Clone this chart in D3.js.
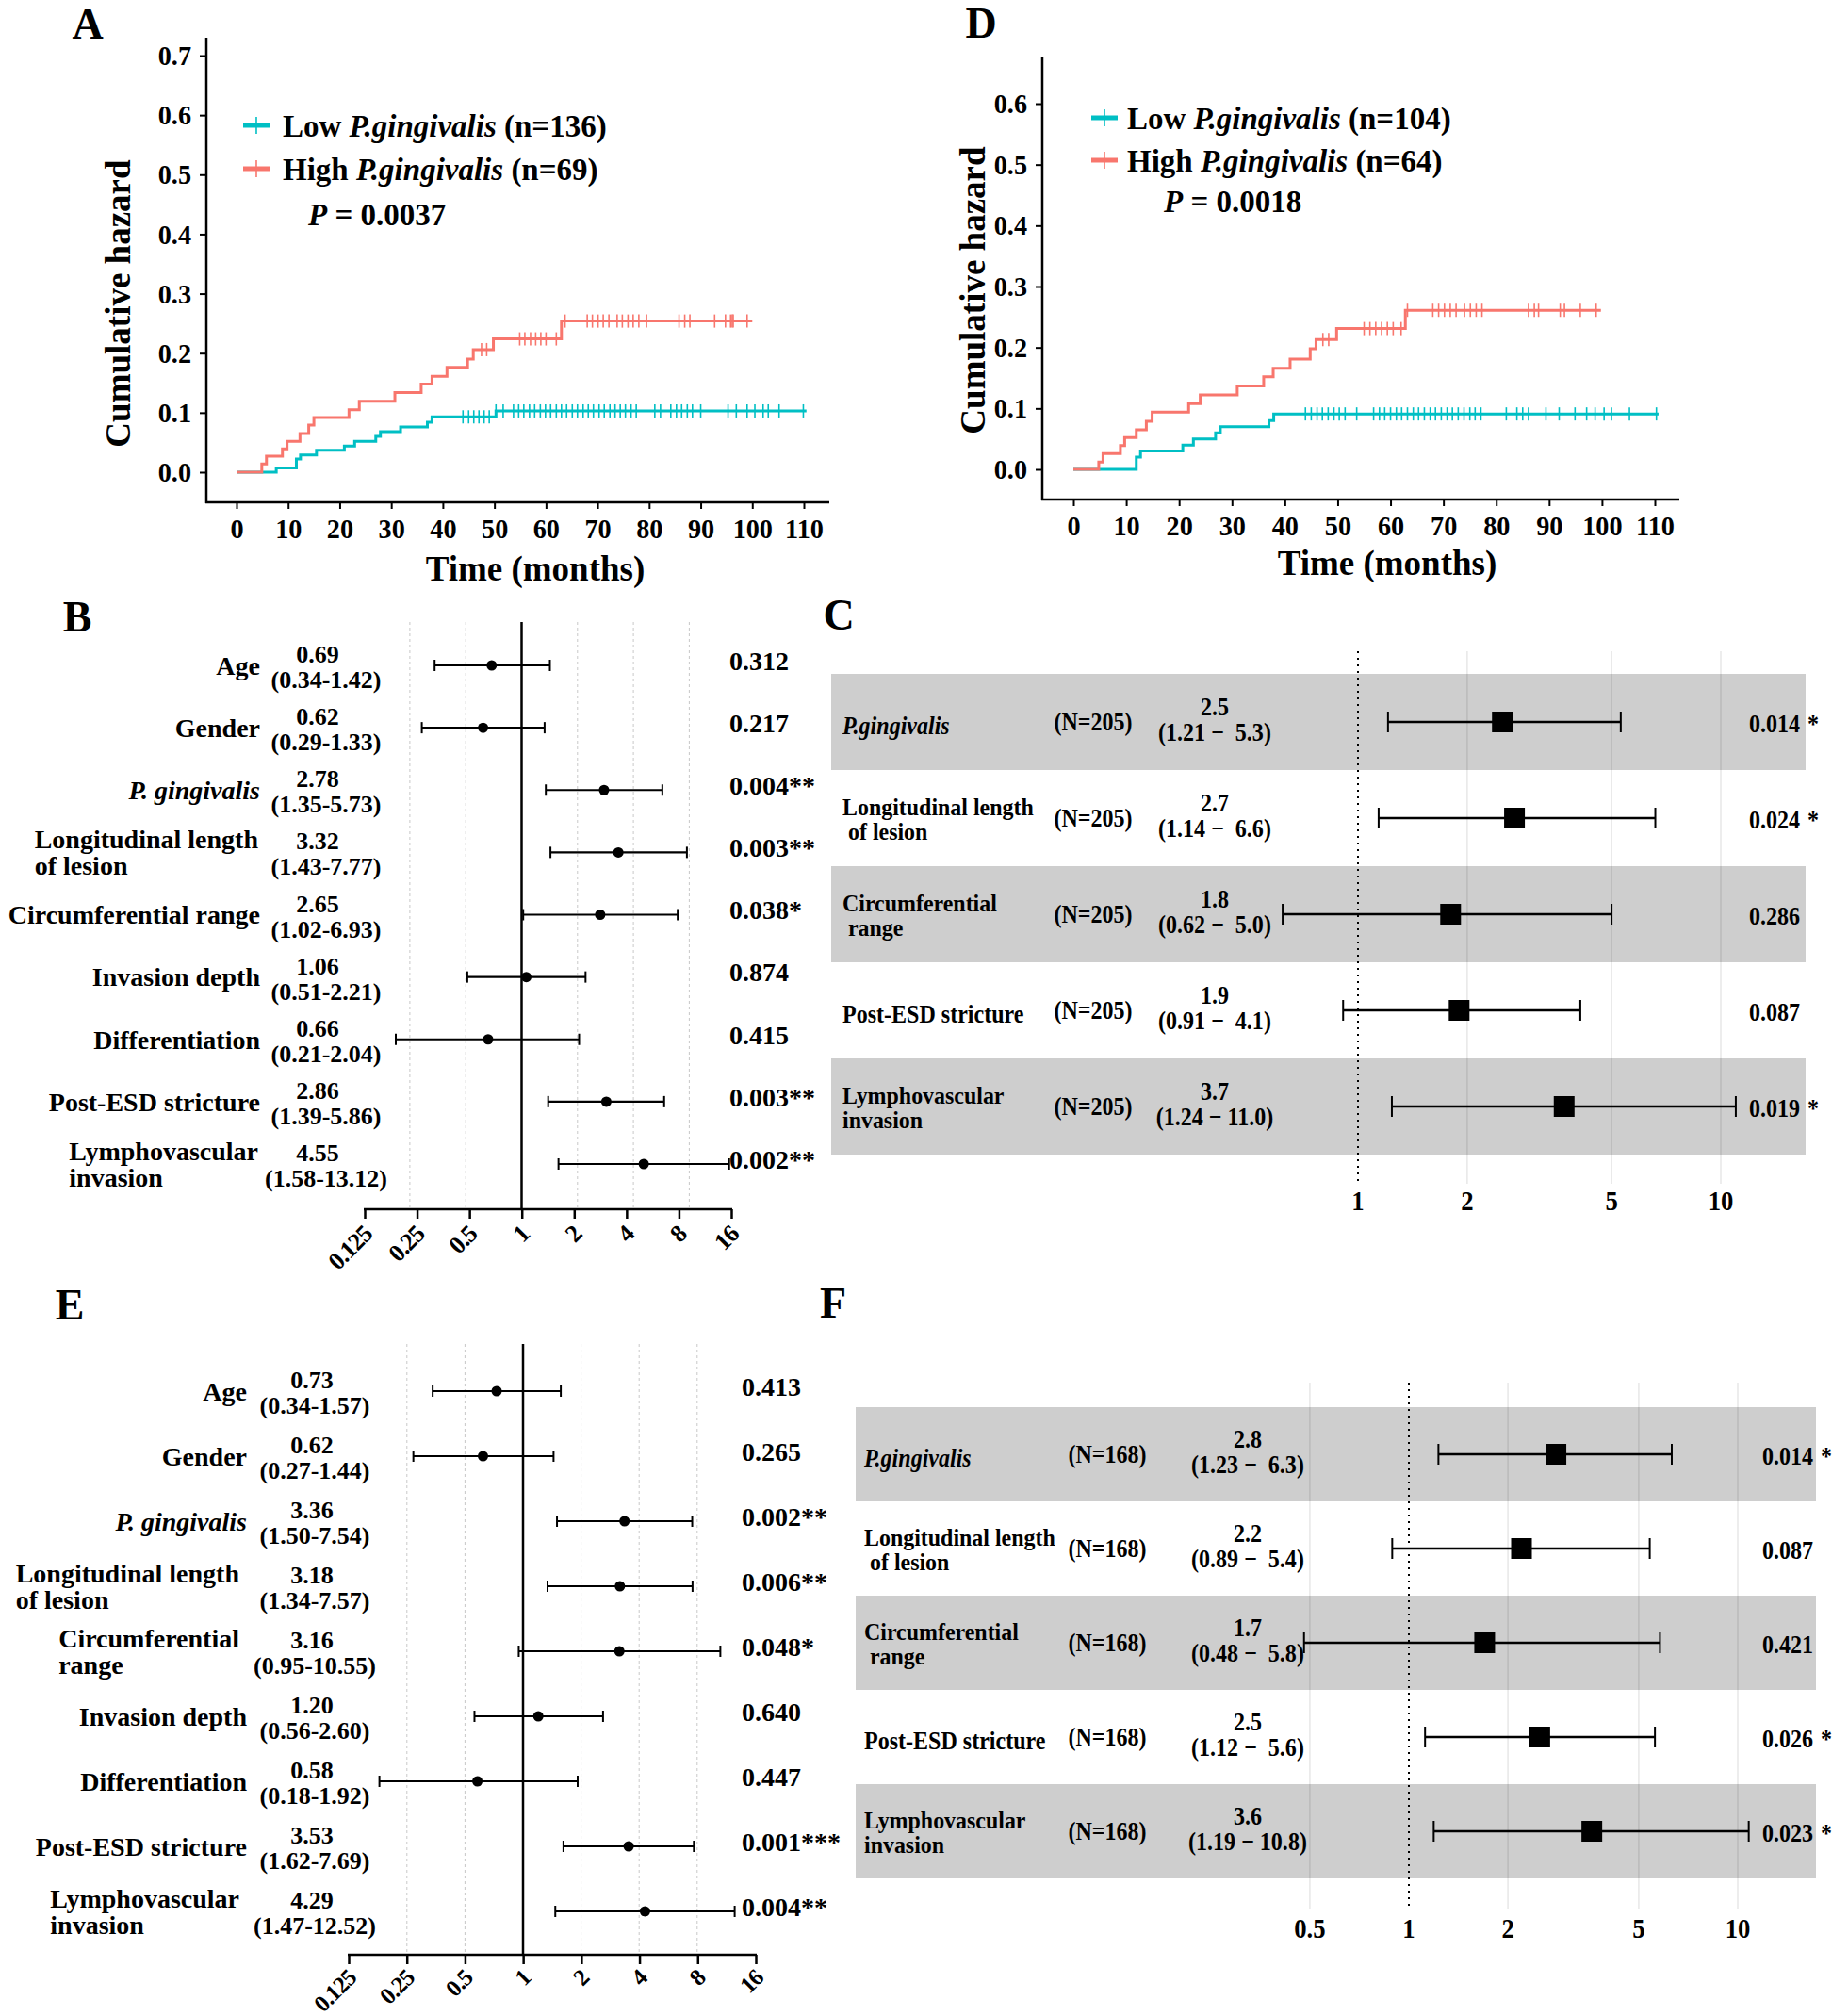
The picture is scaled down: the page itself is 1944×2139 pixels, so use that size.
<!DOCTYPE html>
<html><head><meta charset="utf-8">
<script src="https://cdn.jsdelivr.net/npm/d3@7"></script>
<style>
body{margin:0;background:#fff}
text{font-family:"Liberation Serif","Times New Roman",serif;font-weight:bold;fill:#000;white-space:pre}
</style></head><body>
<svg id="fig" width="1944" height="2139" xmlns="http://www.w3.org/2000/svg"></svg>
<script>
// ---------------- DATA ----------------
// Panel A (cumulative hazard, n=205)
const lowA_times = [0, 7.7, 11.6, 12.4, 15.5, 20.9, 22.9, 27, 27.9, 31.8, 37, 37.9, 50.3];
const lowA_haz   = [0, 0.007, 0.022, 0.029, 0.037, 0.044, 0.052, 0.060, 0.068, 0.076, 0.084, 0.093, 0.103];
const lowA_end = 110.5;
const lowA_cens = [43.9,45,46,47,48,49,50.3,51.7,53.7,54.7,55.7,56.8,57.8,58.9,59.9,60.9,62,63,64,65.1,66.1,67.2,68.2,69.2,70.3,71.3,72.4,73.4,74.4,75.4,76.5,77.5,81.1,82.2,84.2,85.3,86.3,87.4,88.4,90,95.3,96.9,99,100.5,102.1,103.1,105.2,109.9];
const highA_times = [0, 4.9, 5.8, 8.9, 9.8, 12.3, 14, 15, 21.8, 23.8, 30.7, 35.8, 37.9, 40.8, 44.8, 45.9, 49.8, 63];
const highA_haz   = [0, 0.014, 0.027, 0.039, 0.052, 0.065, 0.079, 0.092, 0.105, 0.119, 0.134, 0.148, 0.161, 0.176, 0.190, 0.206, 0.224, 0.254];
const highA_end = 100;
const highA_cens = [47.5,48.5,54.9,55.9,57,58,59,60,62,63.7,68,69,70.1,71.1,72.2,73.8,74.8,75.9,76.9,78,79.5,85.8,86.9,87.9,92.7,94.8,95.8,96.1,96.3,99];
const legendA = ["136","69"];
const pA = "0.0037";

// Panel D (cumulative hazard, n=168)
const lowD_times = [0, 11.9, 12.7, 20.7, 22.7, 26.9, 27.8, 37, 37.9];
const lowD_haz   = [0, 0.020, 0.030, 0.040, 0.050, 0.060, 0.070, 0.080, 0.091];
const lowD_end = 110.7;
const lowD_cens = [43.9,45,46.1,47.1,48.2,49.3,50.3,51.4,53.6,56.8,57.9,58.9,60,61.1,62.1,63.2,64.3,65.3,66.4,67.5,68.5,69.6,70.7,71.7,72.8,73.9,75,76,77.1,81.9,83.9,85,86.1,89.4,91.9,94.9,97.1,98.7,100.4,101.8,105.2,110.3];
const highD_times = [0, 4.8, 5.6, 8.9, 9.7, 11.9, 13.8, 14.9, 21.8, 24, 31, 36, 37.8, 41, 44.8, 45.9, 49.8, 62.8];
const highD_haz   = [0, 0.012, 0.026, 0.039, 0.052, 0.065, 0.079, 0.094, 0.108, 0.122, 0.137, 0.152, 0.166, 0.181, 0.198, 0.213, 0.231, 0.261];
const highD_end = 99.8;
const highD_cens = [47.2,48.3,55,56.1,57.2,58.3,59.4,60.5,62,63.2,68,69.1,70.2,71.3,72.4,74,75.1,76.2,77.3,86.1,87.2,88,92.1,92.9,95.9,98.9];
const legendD = ["104","64"];
const pD = "0.0018";

const timeTicks = [0,10,20,30,40,50,60,70,80,90,100,110];

// Panel B (univariate, n=205)
const varsB = ["Age","Gender","P. gingivalis","Longitudinal length\nof lesion","Circumferential range","Invasion depth","Differentiation","Post-ESD stricture","Lymphovascular\ninvasion"];
const hrB = [0.69,0.62,2.78,3.32,2.65,1.06,0.66,2.86,4.55];
const loB = [0.34,0.29,1.35,1.43,1.02,0.51,0.21,1.39,1.58];
const hiB = [1.42,1.33,5.73,7.77,6.93,2.21,2.04,5.86,13.12];
const pB  = ["0.312","0.217","0.004**","0.003**","0.038*","0.874","0.415","0.003**","0.002**"];

// Panel E (univariate, n=168)
const varsE = ["Age","Gender","P. gingivalis","Longitudinal length\nof lesion","Circumferential\nrange","Invasion depth","Differentiation","Post-ESD stricture","Lymphovascular\ninvasion"];
const hrE = [0.73,0.62,3.36,3.18,3.16,1.20,0.58,3.53,4.29];
const loE = [0.34,0.27,1.50,1.34,0.95,0.56,0.18,1.62,1.47];
const hiE = [1.57,1.44,7.54,7.57,10.55,2.60,1.92,7.69,12.52];
const pE  = ["0.413","0.265","0.002**","0.006**","0.048*","0.640","0.447","0.001***","0.004**"];
const log2Ticks = [0.125,0.25,0.5,1,2,4,8,16];
const log2Grid = [0.25,0.5,2,4,8];

// Panel C (multivariate, N=205)
const varsC = ["P.gingivalis","Longitudinal length\n of lesion","Circumferential\n range","Post-ESD stricture","Lymphovascular\ninvasion"];
const nC = "205";
const hrC = [2.5,2.7,1.8,1.9,3.7];
const loC = [1.21,1.14,0.62,0.91,1.24];
const hiC = [5.3,6.6,5.0,4.1,11.0];
const pC  = ["0.014","0.024","0.286","0.087","0.019"];
const starC = ["*","*","","","*"];
const ticksC = [1,2,5,10];

// Panel F (multivariate, N=168)
const varsF = ["P.gingivalis","Longitudinal length\n of lesion","Circumferential\n range","Post-ESD stricture","Lymphovascular\ninvasion"];
const nF = "168";
const hrF = [2.8,2.2,1.7,2.5,3.6];
const loF = [1.23,0.89,0.48,1.12,1.19];
const hiF = [6.3,5.4,5.8,5.6,10.8];
const pF  = ["0.014","0.087","0.421","0.026","0.023"];
const starF = ["*","","","*","*"];
const ticksF = [0.5,1,2,5,10];

// ---------------- DRAWING ----------------
const TEAL = "#00BFC4", RED = "#F8766D";
const svg = d3.select("#fig");
svg.append("rect").attr("width",1944).attr("height",2139).attr("fill","#fff");

function condense(sel, ratio){
  sel.each(function(){
    const w = this.getComputedTextLength();
    d3.select(this).attr("textLength", w*ratio).attr("lengthAdjust","spacingAndGlyphs");
  });
  return sel;
}

function styleAxis(g, size){
  g.attr("font-family","Liberation Serif, Times New Roman, serif").attr("font-size",size).attr("font-weight","bold");
  g.selectAll(".tick line").attr("stroke","#000").attr("stroke-width",2);
  g.select(".domain").remove();
}

function panelLabel(t,x,y){
  svg.append("text").attr("x",x).attr("y",y).attr("text-anchor","middle").attr("font-size",46).text(t);
}

function kmPanel(c){
  const g = svg.append("g");
  const x = d3.scaleLinear().domain([0,110]).range([c.x0,c.x110]);
  const y = d3.scaleLinear().domain([0,c.ymax]).range([c.y0,c.yTop]);
  const yt = d3.range(0, c.ymax+0.001, 0.1);
  const ya = g.append("g").attr("transform",`translate(${c.axisX},0)`)
    .call(d3.axisLeft(y).tickValues(yt).tickFormat(d3.format(".1f")).tickSize(7).tickPadding(9));
  styleAxis(ya,30);
  condense(ya.selectAll(".tick text"),0.94);
  const xa = g.append("g").attr("transform",`translate(0,${c.axisY})`)
    .call(d3.axisBottom(x).tickValues(timeTicks).tickSize(7).tickPadding(10));
  styleAxis(xa,30);
  condense(xa.selectAll(".tick text"),0.94);
  g.append("line").attr("x1",c.axisX).attr("x2",c.axisX).attr("y1",c.axisTop).attr("y2",c.axisY+1).attr("stroke","#000").attr("stroke-width",2.5);
  g.append("line").attr("x1",c.axisX-1).attr("x2",c.axisRight).attr("y1",c.axisY).attr("y2",c.axisY).attr("stroke","#000").attr("stroke-width",2.5);
  g.append("text").attr("x",c.titleX).attr("y",c.titleY).attr("dy","0.35em").attr("text-anchor","middle").attr("font-size",37).text("Time (months)");
  g.append("text").attr("transform",`translate(${c.ylabX},${c.ylabY}) rotate(-90)`).attr("dy","0.35em").attr("text-anchor","middle").attr("font-size",37).text("Cumulative hazard");

  const series = [
    {t:c.low.t, h:c.low.h, end:c.low.end, cens:c.low.cens, col:TEAL},
    {t:c.high.t, h:c.high.h, end:c.high.end, cens:c.high.cens, col:RED}
  ];
  const line = d3.line().x(d=>x(d[0])).y(d=>y(d[1])).curve(d3.curveStepAfter);
  series.forEach(s=>{
    const pts = s.t.map((t,i)=>[t,s.h[i]]);
    pts.push([s.end, s.h[s.h.length-1]]);
    g.append("path").attr("d",line(pts)).attr("fill","none").attr("stroke",s.col).attr("stroke-width",3);
    s.cens.forEach(ct=>{
      const idx = d3.bisectRight(s.t, ct)-1;
      const lv = s.h[Math.max(0,idx)];
      g.append("line").attr("x1",x(ct)).attr("x2",x(ct)).attr("y1",y(lv)-7).attr("y2",y(lv)+7)
        .attr("stroke",s.col).attr("stroke-width",1.6);
    });
  });
  // legend
  const labs = [["Low ",c.nLow,TEAL],["High ",c.nHigh,RED]];
  labs.forEach((l,i)=>{
    const ly = c.legY[i];
    g.append("line").attr("x1",c.legX).attr("x2",c.legX+28).attr("y1",ly).attr("y2",ly).attr("stroke",l[2]).attr("stroke-width",5);
    g.append("line").attr("x1",c.legX+14).attr("x2",c.legX+14).attr("y1",ly-9).attr("y2",ly+9).attr("stroke",l[2]).attr("stroke-width",1.6);
    const tx = g.append("text").attr("x",c.legTextX).attr("y",ly).attr("dy","0.35em").attr("font-size",33);
    tx.append("tspan").text(l[0]);
    tx.append("tspan").attr("font-style","italic").text("P.gingivalis");
    tx.append("tspan").text(` (n=${l[1]})`);
  });
  const pt = g.append("text").attr("x",c.pX).attr("y",c.pY).attr("dy","0.35em").attr("font-size",33);
  pt.append("tspan").attr("font-style","italic").text("P");
  pt.append("tspan").text(" = "+c.p);
}

kmPanel({x0:251,x110:853,y0:501,yTop:59,ymax:0.7,axisX:219,axisTop:40,axisY:533,axisRight:880,
  titleX:568,titleY:603,ylabX:125,ylabY:322,legX:258,legY:[133,179],legTextX:300,pX:327,pY:227,
  low:{t:lowA_times,h:lowA_haz,end:lowA_end,cens:lowA_cens},
  high:{t:highA_times,h:highA_haz,end:highA_end,cens:highA_cens},
  nLow:legendA[0],nHigh:legendA[1],p:pA});
kmPanel({x0:1139,x110:1756,y0:498,yTop:110,ymax:0.6,axisX:1106,axisTop:60,axisY:530,axisRight:1782,
  titleX:1472,titleY:597,ylabX:1032,ylabY:308,legX:1158,legY:[125,170],legTextX:1196,pX:1235,pY:213,
  low:{t:lowD_times,h:lowD_haz,end:lowD_end,cens:lowD_cens},
  high:{t:highD_times,h:highD_haz,end:highD_end,cens:highD_cens},
  nLow:legendD[0],nHigh:legendD[1],p:pD});

function gpForest(c){
  const g = svg.append("g");
  const n = c.vars.length;
  // plotting scale (marks + gridlines) and axis scale (drawn axis)
  const x = d3.scaleLog().base(2).domain([1,2]).range([c.x1, c.x1 + c.perDbl]);
  const xa = d3.scaleLog().base(2).domain([0.125,16]).range([c.axa,c.axb]);
  const y = d3.scalePoint().domain(d3.range(n)).range([c.yFirst,c.yLast]);
  log2Grid.forEach(v=>{
    g.append("line").attr("x1",x(v)).attr("x2",x(v)).attr("y1",c.top).attr("y2",c.axisY-2)
      .attr("stroke","#c8c8c8").attr("stroke-width",1).attr("stroke-dasharray","3,3");
  });
  g.append("line").attr("x1",x(1)).attr("x2",x(1)).attr("y1",c.top).attr("y2",c.axisY).attr("stroke","#000").attr("stroke-width",2.5);
  const ax = g.append("g").attr("transform",`translate(0,${c.axisY})`)
    .call(d3.axisBottom(xa).tickValues(log2Ticks).tickFormat(d=>String(d)).tickSize(10));
  styleAxis(ax,c.tickFont);
  ax.selectAll(".tick line").attr("stroke-width",2.5);
  ax.selectAll(".tick text").attr("y",null).attr("dy",null).attr("text-anchor","end")
    .attr("letter-spacing",-1)
    .attr("transform",`translate(9,${c.tickDy}) rotate(-45)`);
  g.append("line").attr("x1",c.axa-1).attr("x2",c.axb+1).attr("y1",c.axisY).attr("y2",c.axisY).attr("stroke","#000").attr("stroke-width",2.5);

  for(let i=0;i<n;i++){
    const yy = y(i);
    g.append("line").attr("x1",x(c.lo[i])).attr("x2",x(c.hi[i])).attr("y1",yy).attr("y2",yy).attr("stroke","#000").attr("stroke-width",2.2);
    [c.lo[i],c.hi[i]].forEach(v=>g.append("line").attr("x1",x(v)).attr("x2",x(v)).attr("y1",yy-6).attr("y2",yy+6).attr("stroke","#000").attr("stroke-width",2));
    g.append("circle").attr("cx",x(c.hr[i])).attr("cy",yy).attr("r",5.5).attr("fill","#000");
    const lines = c.vars[i].split("\n");
    const ital = c.vars[i].includes("gingivalis");
    if(lines.length===1){
      g.append("text").attr("x",c.labelRight).attr("y",yy).attr("dy","0.35em").attr("text-anchor","end")
        .attr("font-size",28).attr("font-style",ital?"italic":null).text(lines[0]);
    } else {
      const t1 = g.append("text").attr("x",c.label2Right).attr("y",yy-14).attr("dy","0.35em").attr("text-anchor","end").attr("font-size",28).text(lines[0]);
      const w = t1.node().getComputedTextLength();
      g.append("text").attr("x",c.label2Right-w).attr("y",yy+14).attr("dy","0.35em").attr("font-size",28).text(lines[1]);
    }
    g.append("text").attr("x",c.hrX).attr("y",yy-12).attr("dy","0.35em").attr("text-anchor","middle").attr("font-size",26).text(c.hr[i].toFixed(2));
    g.append("text").attr("x",c.ciX).attr("y",yy+15).attr("dy","0.35em").attr("text-anchor","middle").attr("font-size",26).text(`(${c.lo[i].toFixed(2)}-${c.hi[i].toFixed(2)})`);
    g.append("text").attr("x",c.pX).attr("y",yy-5).attr("dy","0.35em").attr("font-size",28).text(c.p[i]);
  }
}

gpForest({vars:varsB,hr:hrB,lo:loB,hi:hiB,p:pB,x1:553.5,perDbl:59.3,axa:387,axb:776,yFirst:706,yLast:1235,top:660,axisY:1283,
  tickFont:26,tickDy:28,labelRight:276,label2Right:274,hrX:337,ciX:346,pX:774});
gpForest({vars:varsE,hr:hrE,lo:loE,hi:hiE,p:pE,x1:555,perDbl:61.6,axa:370,axb:802,yFirst:1476,yLast:2028,top:1426,axisY:2074,
  tickFont:25,tickDy:26,labelRight:262,label2Right:254,hrX:331,ciX:334,pX:787});

function fmForest(c){
  const g = svg.append("g");
  const n = c.vars.length;
  const x = d3.scaleLog().domain([1,10]).range([c.x1,c.x10]);
  const rowY = i => c.row0 + i*c.rowH;
  const F = 27, R = 0.89;
  for(let i=0;i<n;i+=2){
    g.append("rect").attr("x",c.bandL).attr("y",rowY(i)-c.rowH/2).attr("width",c.bandR-c.bandL).attr("height",c.rowH).attr("fill","#cecece");
  }
  c.ticks.filter(v=>v!==1).forEach(v=>{
    g.append("line").attr("x1",x(v)).attr("x2",x(v)).attr("y1",c.top).attr("y2",c.bottom).attr("stroke","#000").attr("stroke-opacity",0.12).attr("stroke-width",1.2);
  });
  g.append("line").attr("x1",x(1)).attr("x2",x(1)).attr("y1",c.top).attr("y2",c.bottom).attr("stroke","#000").attr("stroke-width",2).attr("stroke-dasharray","2,5");
  c.ticks.forEach(v=>{
    condense(g.append("text").attr("x",x(v)).attr("y",c.tickY).attr("dy","0.35em").attr("text-anchor","middle").attr("font-size",29).text(String(v)),0.92);
  });
  for(let i=0;i<n;i++){
    const yy = rowY(i);
    g.append("line").attr("x1",x(c.lo[i])).attr("x2",x(c.hi[i])).attr("y1",yy).attr("y2",yy).attr("stroke","#000").attr("stroke-width",2.5);
    [c.lo[i],c.hi[i]].forEach(v=>g.append("line").attr("x1",x(v)).attr("x2",x(v)).attr("y1",yy-11).attr("y2",yy+11).attr("stroke","#000").attr("stroke-width",2));
    g.append("rect").attr("x",x(c.hr[i])-11).attr("y",yy-11).attr("width",22).attr("height",22).attr("fill","#000");
    const lines = c.vars[i].split("\n");
    const ital = c.vars[i].includes("gingivalis");
    const texts = [];
    if(lines.length===1){
      texts.push(g.append("text").attr("x",c.labelX).attr("y",yy+4).attr("dy","0.35em").attr("font-style",ital?"italic":null).text(lines[0]));
    } else {
      const t1 = g.append("text").attr("x",c.labelX).attr("y",yy-12).attr("dy","0.35em").text(lines[0]);
      const t2 = g.append("text").attr("x",c.labelX).attr("y",yy+14).attr("dy","0.35em").text(lines[1]);
      [t1,t2].forEach(t=>{ t.attr("font-size",26); condense(t,0.92); });
    }
    texts.push(g.append("text").attr("x",c.nX).attr("y",yy).attr("dy","0.35em").attr("text-anchor","middle").text(`(N=${c.N})`));
    texts.push(g.append("text").attr("x",c.hrX).attr("y",yy-16).attr("dy","0.35em").attr("text-anchor","middle").text(c.hr[i].toFixed(1)));
    const hiTxt = c.hi[i].toFixed(1);
    texts.push(g.append("text").attr("x",c.hrX).attr("y",yy+11).attr("dy","0.35em").attr("text-anchor","middle")
      .text(`(${c.lo[i].toFixed(2)} \u2212${hiTxt.length<4?"  ":" "}${hiTxt})`));
    texts.push(g.append("text").attr("x",c.pX).attr("y",yy+2).attr("dy","0.35em").text(c.p[i]));
    if(c.star[i]) texts.push(g.append("text").attr("x",c.starX).attr("y",yy+2).attr("dy","0.35em").text(c.star[i]));
    texts.forEach(t=>{ t.attr("font-size",F); condense(t,R); });
  }
}

fmForest({vars:varsC,N:nC,hr:hrC,lo:loC,hi:hiC,p:pC,star:starC,ticks:ticksC,
  x1:1441,x10:1826,row0:766,rowH:102,bandL:882,bandR:1916,top:691,bottom:1256,tickY:1274,
  labelX:894,nX:1160,hrX:1289,pX:1856,starX:1918});
fmForest({vars:varsF,N:nF,hr:hrF,lo:loF,hi:hiF,p:pF,star:starF,ticks:ticksF,
  x1:1495,x10:1844,row0:1543,rowH:100,bandL:908,bandR:1927,top:1467,bottom:2026,tickY:2046,
  labelX:917,nX:1175,hrX:1324,pX:1870,starX:1932});

panelLabel("A",93,41);
panelLabel("D",1041,40);
panelLabel("B",82,670);
panelLabel("C",890,668);
panelLabel("E",74,1400);
panelLabel("F",884,1398);
</script>
</body></html>
